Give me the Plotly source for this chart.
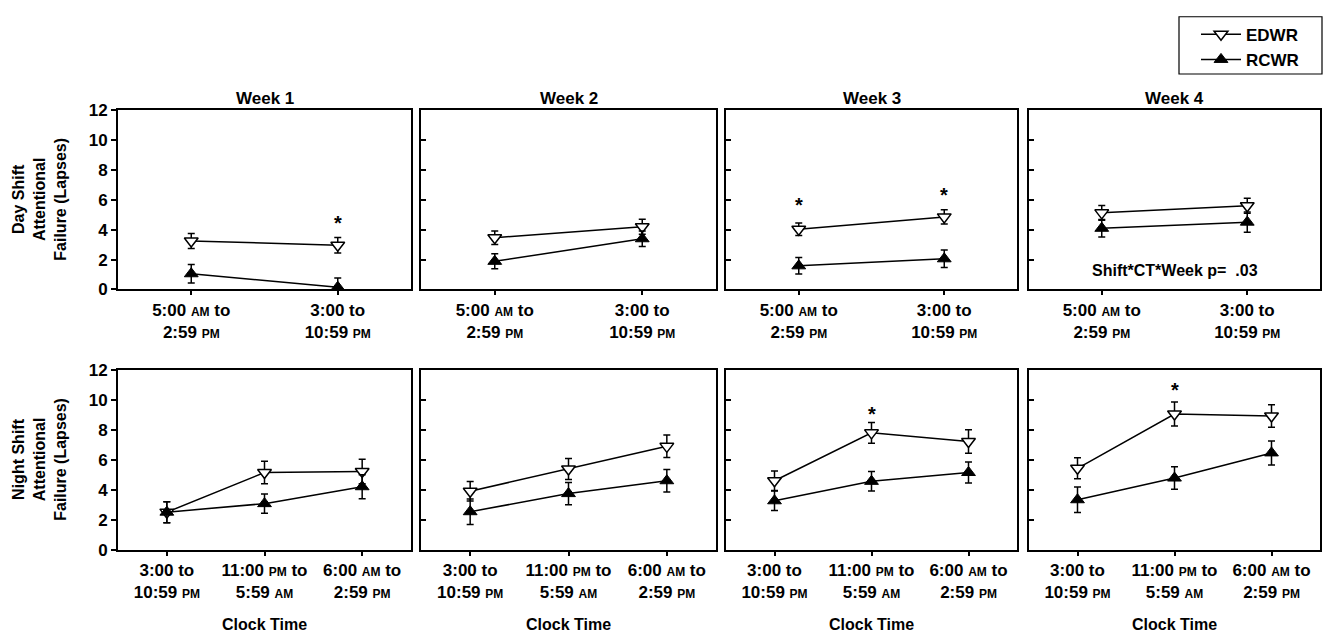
import plotly.graph_objects as go

weeks = ["Week 1", "Week 2", "Week 3", "Week 4"]
day_ticks = ["5:00 <span style='font-size:12px'>AM</span> to<br>2:59 <span style='font-size:12px'>PM</span>",
             "3:00 to<br>10:59 <span style='font-size:12px'>PM</span>"]
night_ticks = ["3:00 to<br>10:59 <span style='font-size:12px'>PM</span>",
               "11:00 <span style='font-size:12px'>PM</span> to<br>5:59 <span style='font-size:12px'>AM</span>",
               "6:00 <span style='font-size:12px'>AM</span> to<br>2:59 <span style='font-size:12px'>PM</span>"]
yticks = [0, 2, 4, 6, 8, 10, 12]

day_edwr = [[3.24, 2.96], [3.46, 4.19], [4.02, 4.85], [5.12, 5.6]]
day_edwr_err = [[0.5, 0.52], [0.45, 0.5], [0.42, 0.48], [0.5, 0.5]]
day_rcwr = [[1.05, 0.15], [1.88, 3.39], [1.58, 2.05], [4.09, 4.5]]
day_rcwr_err = [[0.62, 0.62], [0.5, 0.52], [0.55, 0.58], [0.58, 0.67]]

night_edwr = [[2.5, 5.15, 5.22], [3.9, 5.38, 6.9], [4.6, 7.8, 7.22], [5.43, 9.06, 8.93]]
night_edwr_err = [[0.7, 0.75, 0.82], [0.65, 0.7, 0.75], [0.65, 0.7, 0.78], [0.7, 0.8, 0.75]]
night_rcwr = [[2.5, 3.07, 4.2], [2.53, 3.74, 4.6], [3.26, 4.56, 5.15], [3.33, 4.78, 6.46]]
night_rcwr_err = [[0.7, 0.65, 0.8], [0.85, 0.75, 0.75], [0.65, 0.65, 0.7], [0.85, 0.75, 0.8]]

# significance markers: (row, week index, x category, y value)
stars_row = ["day", "day", "day", "night", "night"]
stars_week = [0, 2, 2, 2, 3]
stars_x = [1, 0, 1, 1, 1]
stars_y = [4.69, 5.9, 6.6, 9.3, 10.9]

W, H = 1326, 644
xpix = [(118, 411), (421, 716), (726, 1017), (1029, 1320)]
ypix = {"day": (104, 289), "night": (372, 557)}

FONT = "Liberation Sans, Arial, sans-serif"
fig = go.Figure()

def axname(row, i):
    return (0 if row == "day" else 4) + i + 1

for row in ["day", "night"]:
    for i in range(4):
        n = axname(row, i)
        xa = "x" if n == 1 else f"x{n}"
        ya = "y" if n == 1 else f"y{n}"
        if row == "day":
            e, ee, r, re_, ticks = day_edwr[i], day_edwr_err[i], day_rcwr[i], day_rcwr_err[i], day_ticks
        else:
            e, ee, r, re_, ticks = night_edwr[i], night_edwr_err[i], night_rcwr[i], night_rcwr_err[i], night_ticks
        xs = list(range(len(ticks)))
        show = (row == "day" and i == 0)
        fig.add_trace(go.Scatter(
            x=xs, y=e, mode="lines+markers", name="EDWR", showlegend=show, legendrank=1,
            xaxis=xa, yaxis=ya,
            line=dict(color="black", width=1.5),
            marker=dict(symbol="triangle-down", size=12, color="white", line=dict(color="black", width=1.5)),
            error_y=dict(type="data", array=ee, color="black", thickness=1.5, width=3.5),
        ))
        fig.add_trace(go.Scatter(
            x=xs, y=r, mode="lines+markers", name="RCWR", showlegend=show, legendrank=2,
            xaxis=xa, yaxis=ya,
            line=dict(color="black", width=1.5),
            marker=dict(symbol="triangle-up", size=12, color="black", line=dict(color="black", width=1)),
            error_y=dict(type="data", array=re_, color="black", thickness=1.5, width=3.5),
        ))
        x0, x1 = xpix[i]
        y0, y1 = ypix[row]
        xkey = "xaxis" if n == 1 else f"xaxis{n}"
        ykey = "yaxis" if n == 1 else f"yaxis{n}"
        fig.layout[xkey] = dict(
            domain=[x0 / W, x1 / W], anchor=ya, range=[-0.5, len(ticks) - 0.5],
            tickvals=xs, ticktext=ticks, ticks="outside", ticklen=4, tickwidth=1.5, tickcolor="black",
            showline=True, linecolor="black", linewidth=2, mirror=True, showgrid=False, zeroline=False,
            tickfont=dict(family=FONT, size=17, color="black", weight="bold"),
        )
        fig.layout[ykey] = dict(
            domain=[1 - y1 / H, 1 - y0 / H], anchor=xa, range=[0, 12],
            tickvals=yticks, ticks="outside" if i == 0 else "inside", ticklen=5, tickwidth=1.5, tickcolor="black",
            showticklabels=(i == 0),
            showline=True, linecolor="black", linewidth=2, mirror=True, showgrid=False, zeroline=False,
            tickfont=dict(family=FONT, size=17, color="black", weight="bold"),
        )

annotations = []
for i in range(4):
    x0, x1 = xpix[i]
    annotations.append(dict(text=weeks[i], x=(x0 + x1) / 2 / W, y=1 - 92 / H, xref="paper", yref="paper",
                            showarrow=False, font=dict(family=FONT, size=17, color="black", weight="bold"),
                            xanchor="center", yanchor="middle"))
    annotations.append(dict(text="Clock Time", x=(x0 + x1) / 2 / W, y=1 - 634 / H, xref="paper", yref="paper",
                            showarrow=False, font=dict(family=FONT, size=16, color="black", weight="bold"),
                            xanchor="center", yanchor="middle"))

for txt, row in [("Day Shift<br>Attentional<br>Failure (Lapses)", "day"),
                 ("Night Shift<br>Attentional<br>Failure (Lapses)", "night")]:
    y0, y1 = ypix[row]
    annotations.append(dict(text=txt, x=40 / W, y=1 - (y0 + y1) / 2 / H, xref="paper", yref="paper",
                            showarrow=False, textangle=-90,
                            font=dict(family=FONT, size=16, color="black", weight="bold"),
                            xanchor="center", yanchor="middle"))

for row, wk, sx, sy in zip(stars_row, stars_week, stars_x, stars_y):
    n = axname(row, wk)
    annotations.append(dict(text="*", x=sx, y=sy, xref="x" if n == 1 else f"x{n}", yref="y" if n == 1 else f"y{n}",
                            showarrow=False, font=dict(family=FONT, size=20, color="black", weight="bold"),
                            xanchor="center", yanchor="middle", yshift=-4))

annotations.append(dict(text="Shift*CT*Week p=  .03", x=0.5, y=1.3, xref="x4 domain", yref="y4",
                        showarrow=False, font=dict(family=FONT, size=16, color="black", weight="bold"),
                        xanchor="center", yanchor="middle"))

fig.update_layout(
    width=W, height=H, margin=dict(l=0, r=0, t=0, b=0),
    paper_bgcolor="white", plot_bgcolor="white",
    annotations=annotations,
    shapes=[dict(type="rect", xref="paper", yref="paper", x0=1179 / W, x1=1322 / W,
                 y0=1 - 67 / H, y1=1 - 8 / H, line=dict(color="black", width=1.2), fillcolor="rgba(0,0,0,0)")],
    legend=dict(x=1196 / W, y=1 - 8 / H, xanchor="left", yanchor="top",
                borderwidth=0, bgcolor="rgba(0,0,0,0)",
                font=dict(family=FONT, size=17, color="black", weight="bold"),
                tracegroupgap=0, itemwidth=40),
    font=dict(family=FONT, color="black"),
)

fig.write_html("out.html", config={"displayModeBar": False},
               post_script="document.body.style.margin='0px';document.body.style.overflow='hidden';")
